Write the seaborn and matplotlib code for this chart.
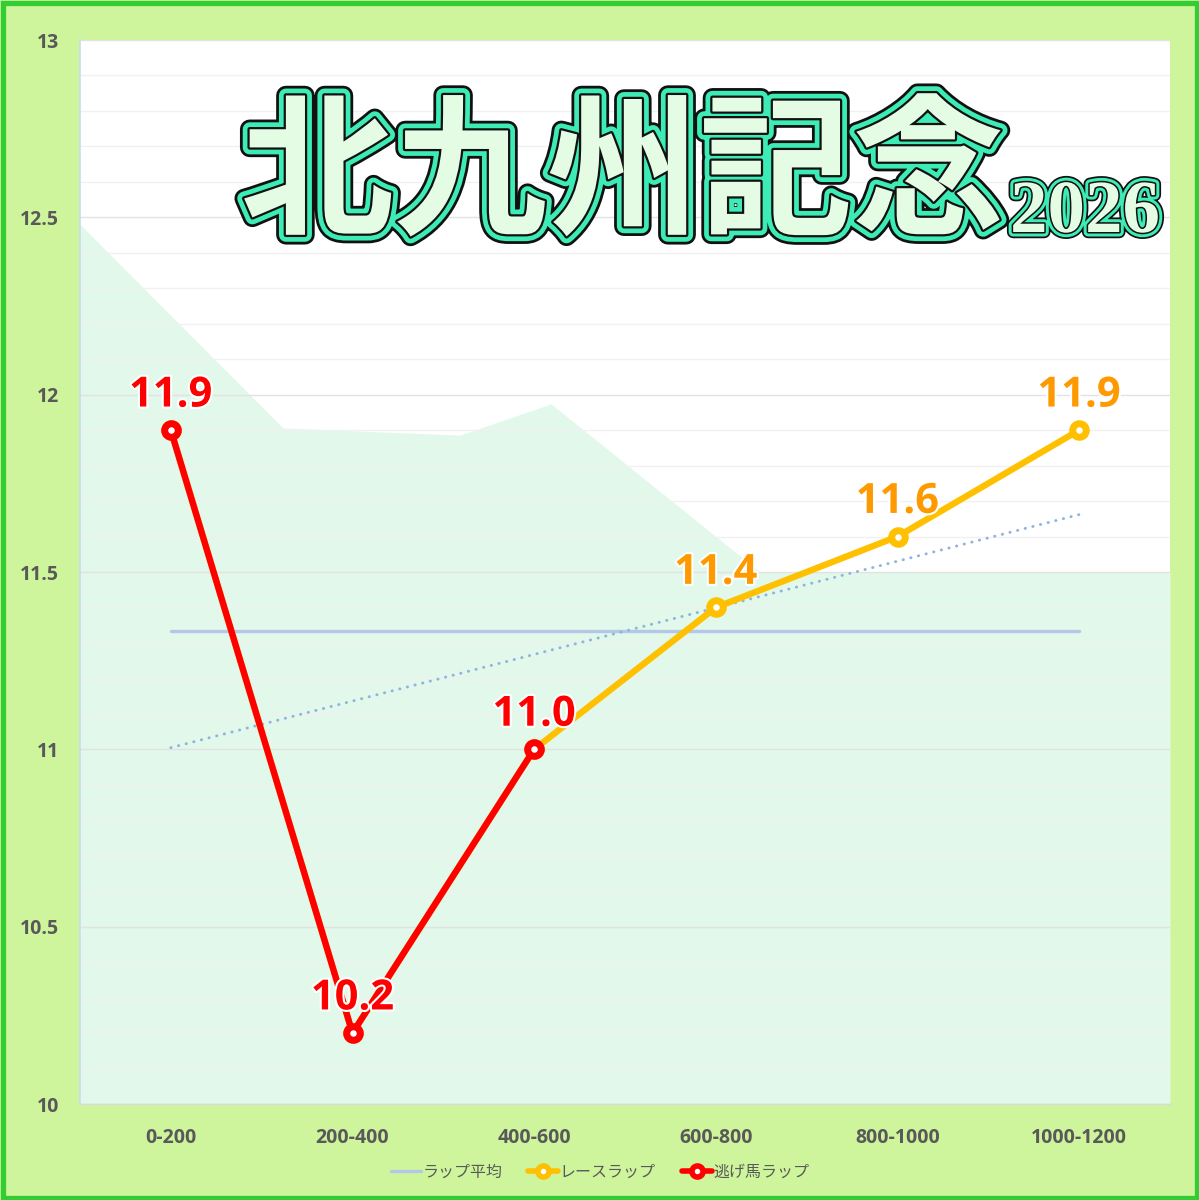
import numpy as np
import pandas as pd
import matplotlib
matplotlib.use('Agg')
import matplotlib.pyplot as plt
import matplotlib.patheffects as pe
from matplotlib.patches import Rectangle
from matplotlib.lines import Line2D
from matplotlib.ticker import MultipleLocator, FuncFormatter
import seaborn as sns

# ---------------- data ----------------
categories = ["0-200", "200-400", "400-600", "600-800", "800-1000", "1000-1200"]
race_lap = [11.9, 10.2, 11.0, 11.4, 11.6, 11.9]
nige_lap = [11.9, 10.2, 11.0]
area_x = [-0.5, 0.617, 1.592, 2.093, 3.243, 5.5]
area_y = [12.48, 11.906, 11.886, 11.974, 11.5, 11.5]
y_ticks = [10, 10.5, 11, 11.5, 12, 12.5, 13]
title_main = "北九州記念"
title_year = "2026"
legend_labels = ["ラップ平均", "レースラップ", "逃げ馬ラップ"]

# ---------------- style ----------------
sns.set_theme(style="white")
plt.rcParams['font.family'] = ['Noto Sans CJK JP', 'DejaVu Sans']

BG = '#CEF59C'
RED = '#FF0000'
ORANGE_LINE = '#FFC000'
ORANGE_TXT = '#FF9900'
AVG = '#B4C7E7'
TREND = '#8FB4DE'
GRAY = '#595959'

fig = plt.figure(figsize=(11.99, 12), dpi=100, facecolor=BG)
ax = fig.add_axes([80 / 1199, 96 / 1200, 1090 / 1199, 1064 / 1200])
ax.set_facecolor('white')

pos = np.arange(len(categories))

# background area
ax.fill_between(area_x, area_y, 10, color='#E1F8EA', lw=0, zorder=0.2)

# average line
avg = float(np.mean(race_lap))
ax.plot([pos[0], pos[-1]], [avg, avg], color=AVG, lw=2.4, solid_capstyle='round', zorder=1.5)

# trend line (linear fit of race laps)
coef = np.polyfit(pos, race_lap, 1)
ax.plot(pos[[0, -1]], np.polyval(coef, pos[[0, -1]]), color=TREND, lw=2.1,
        linestyle=(0, (0.1, 2.6)), dash_capstyle='round', zorder=1.6)

df_race = pd.DataFrame({'pos': pos, 'lap': race_lap})
df_nige = pd.DataFrame({'pos': pos[:len(nige_lap)], 'lap': nige_lap})

mk = dict(marker='o', ms=9.8, mew=5.0, mfc='white')
sns.lineplot(data=df_race, x='pos', y='lap', ax=ax, color=ORANGE_LINE, lw=4.6,
             mec=ORANGE_LINE, errorbar=None, zorder=3, **mk)
sns.lineplot(data=df_nige, x='pos', y='lap', ax=ax, color=RED, lw=4.6,
             mec=RED, errorbar=None, zorder=4, **mk)

# data labels
lab_fx = [pe.Stroke(linewidth=3, foreground='white'), pe.Normal()]
for i, v in enumerate(race_lap):
    c = RED if i < len(nige_lap) else ORANGE_TXT
    ax.annotate(f"{v:.1f}", (pos[i], v), xytext=(0, 17), textcoords='offset points',
                ha='center', va='baseline', fontsize=30, fontweight='bold',
                family=['Open Sans', 'DejaVu Sans'], color=c, path_effects=lab_fx, zorder=6)

# axes formatting
ax.set_xlim(-0.5, 5.5)
ax.set_ylim(10, 13)
ax.set_xticks(pos)
ax.set_xticklabels(categories)
ax.set_yticks(y_ticks)
ax.yaxis.set_major_formatter(FuncFormatter(lambda v, p: f"{v:g}"))
ax.yaxis.set_minor_locator(MultipleLocator(0.1))
ax.set_xlabel('')
ax.set_ylabel('')
ax.set_axisbelow(True)
ax.grid(True, which='major', axis='y', color='#E2E2E2', lw=1.0, zorder=0.5)
ax.grid(True, which='minor', axis='y', color='#F1F1F1', lw=1.0, zorder=0.5)
ax.grid(False, axis='x')
ax.tick_params(axis='both', which='both', length=0)
ax.tick_params(axis='y', pad=15)
ax.tick_params(axis='x', pad=17)
for t in ax.get_xticklabels() + ax.get_yticklabels():
    t.set_fontsize(14)
    t.set_fontweight('bold')
    t.set_color(GRAY)
    t.set_family(['Open Sans', 'DejaVu Sans'])
for s in ['top', 'right']:
    ax.spines[s].set_visible(False)
ax.spines['left'].set_color('#C5DCEF')
ax.spines['left'].set_linewidth(1.2)
ax.spines['bottom'].set_color('#D9D9D9')
ax.spines['bottom'].set_linewidth(1.0)

# title
title_fx = [pe.Stroke(linewidth=14, foreground='#111111'),
            pe.Stroke(linewidth=10, foreground='#3DEBB5'),
            pe.Stroke(linewidth=3.2, foreground='#111111'),
            pe.Normal()]
fig.text(623 / 1199, 1 - 178 / 1200, title_main, ha='center', va='center',
         fontsize=110, fontweight='bold', color='#E4FBE4',
         family=['Noto Sans CJK JP'], path_effects=title_fx, zorder=10)
year_fx = [pe.Stroke(linewidth=9, foreground='#111111'),
           pe.Stroke(linewidth=6.5, foreground='#3DEBB5'),
           pe.Stroke(linewidth=2.2, foreground='#111111'),
           pe.Normal()]
fig.text(1085 / 1199, 1 - 232 / 1200, title_year, ha='center', va='baseline',
         fontsize=54, fontweight='bold', color='#E4FBE4',
         family=['Liberation Serif', 'DejaVu Serif'], path_effects=year_fx, zorder=10)

# legend
handles = [Line2D([], [], color=AVG, lw=2.4),
           Line2D([], [], color=ORANGE_LINE, lw=4, marker='o', ms=8, mew=4, mfc='white', mec=ORANGE_LINE),
           Line2D([], [], color=RED, lw=4, marker='o', ms=8, mew=4, mfc='white', mec=RED)]
leg = fig.legend(handles, legend_labels, loc='center', bbox_to_anchor=(600 / 1199, 1 - 1172 / 1200),
                 ncol=3, frameon=False, fontsize=11.5, handlelength=1.9, handletextpad=0.1,
                 columnspacing=1.6)
for t in leg.get_texts():
    t.set_color(GRAY)

# border
fig.patches.append(Rectangle((2.5 / 1199, 2.5 / 1200), 1 - 5 / 1199, 1 - 5 / 1200,
                             transform=fig.transFigure, fill=False, edgecolor='#33CC33',
                             lw=3.8, zorder=20))

fig.savefig('out.png', dpi=100, facecolor=BG)
